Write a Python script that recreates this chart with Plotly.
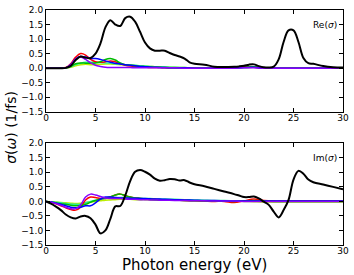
import plotly.graph_objects as go

# ---------------- data ----------------
x_k = [0, 0.5, 1, 1.5, 2, 2.5, 3, 3.5, 4, 4.5, 5, 5.5, 6, 6.5, 7, 7.5, 8, 8.5, 9, 9.5,
       10, 10.5, 11, 11.5, 12, 12.5, 13, 13.5, 14, 14.5, 15, 16, 17, 18, 19,
       19.5, 20, 20.5, 21, 21.5, 22, 22.5, 23, 23.5, 24, 24.5, 25, 25.5, 26, 26.5, 27,
       28, 29, 30]

re_black = [0, 0, 0, 0, 0.01, 0.08, 0.28, 0.40, 0.36, 0.35, 0.5, 0.85, 1.4, 1.65, 1.5, 1.45,
            1.72, 1.77, 1.6, 1.25, 0.88, 0.68, 0.6, 0.6, 0.6, 0.52, 0.45, 0.40, 0.33, 0.2,
            0.15, 0.12, 0.05, 0.04, 0.05, 0.06, 0.08, 0.12, 0.13, 0.07, 0.03, 0.02, 0.05,
            0.3, 0.9, 1.3, 1.3, 0.9, 0.35, 0.17, 0.15, 0.07, 0.03, 0.02]

im_black = [0, -0.08, -0.18, -0.3, -0.45, -0.55, -0.59, -0.52, -0.5, -0.58, -0.8, -1.1,
            -1.0, -0.6, -0.17, -0.16, 0.2, 0.7, 1.02, 1.08, 1.02, 0.92, 0.78, 0.71, 0.73,
            0.77, 0.76, 0.72, 0.73, 0.65, 0.59, 0.52, 0.43, 0.34, 0.25, 0.2, 0.15, 0.15,
            0.17, 0.1, -0.01, -0.12, -0.35, -0.55, -0.3, 0.05, 0.75, 1.05, 0.95, 0.75,
            0.66, 0.58, 0.5, 0.42]

x_c = [0, 0.5, 1, 1.5, 2, 2.5, 3, 3.5, 4, 4.5, 5, 5.5, 6, 6.5, 7, 7.5, 8, 8.5, 9, 9.5,
       10, 10.5, 11, 11.5, 12, 13, 14, 15, 16, 17, 18, 19, 20, 21, 22, 23, 24, 25, 26,
       27, 28, 29, 30]

re_colored = {
    "#bbee00": [0, 0, 0, 0, 0, 0.03, 0.08, 0.12, 0.13, 0.12, 0.12, 0.13, 0.14, 0.14, 0.13,
                0.12, 0.11, 0.1, 0.09, 0.08, 0.07, 0.06, 0.05, 0.04, 0.04, 0.03, 0.02, 0.01,
                0.01, 0, 0, 0.01, 0.02, 0.03, 0, 0, 0, 0, 0, 0, 0, 0, 0],
    "#22ee99": [0, 0, 0, 0, 0.01, 0.05, 0.12, 0.17, 0.2, 0.2, 0.2, 0.19, 0.18, 0.17, 0.15,
                0.14, 0.12, 0.11, 0.1, 0.08, 0.07, 0.06, 0.05, 0.05, 0.04, 0.03, 0.02, 0.01,
                0.01, 0, 0, 0.01, 0.02, 0.05, 0, 0, 0, 0, 0, 0, 0, 0, 0],
    "#ff0000": [0, 0, 0, 0, 0.02, 0.15, 0.38, 0.5, 0.45, 0.3, 0.22, 0.2, 0.22, 0.25, 0.22,
                0.15, 0.1, 0.07, 0.05, 0.04, 0.03, 0.02, 0.02, 0.02, 0.01, 0.01, 0.01, 0,
                0, 0, 0, 0.02, 0.06, 0.04, 0, 0, 0, 0, 0, 0, 0, 0, 0],
    "#00bb00": [0, 0, 0, 0, 0.01, 0.06, 0.15, 0.18, 0.17, 0.17, 0.18, 0.22, 0.3, 0.33, 0.28,
                0.18, 0.12, 0.1, 0.08, 0.06, 0.05, 0.04, 0.03, 0.03, 0.02, 0.01, 0.01, 0,
                0, 0, 0, 0.01, 0.03, 0.05, 0, 0, 0, 0, 0, 0, 0, 0, 0],
    "#0000ff": [0, 0, 0, 0, 0.01, 0.12, 0.32, 0.4, 0.38, 0.33, 0.33, 0.3, 0.25, 0.2, 0.17,
                0.14, 0.12, 0.1, 0.08, 0.06, 0.05, 0.04, 0.03, 0.02, 0.02, 0.01, 0.01, 0,
                0, 0, 0, 0.01, 0.02, 0.03, 0, 0, 0, 0, 0, 0, 0, 0, 0],
    "#8800ff": [0, 0, 0, 0, 0.01, 0.12, 0.32, 0.38, 0.3, 0.18, 0.1, 0.06, 0.03, 0.02, 0.02,
                0.02, 0.02, 0.02, 0.01, 0.01, 0.01, 0.01, 0.01, 0.01, 0.01, 0.01, 0, 0,
                0, 0, 0, 0, 0.01, 0.01, 0, 0, 0, 0, 0, 0, 0, 0, 0],
}

im_colored = {
    "#bbee00": [0, -0.01, -0.02, -0.04, -0.05, -0.06, -0.07, -0.06, -0.04, -0.02, 0, 0.02,
                0.04, 0.05, 0.06, 0.07, 0.07, 0.07, 0.06, 0.06, 0.06, 0.05, 0.05, 0.05, 0.04,
                0.04, 0.03, 0.03, 0.02, 0.02, 0.01, 0.01, 0, -0.01, -0.02, -0.02, -0.02,
                -0.02, -0.02, -0.02, -0.02, -0.02, -0.02],
    "#22ee99": [0, -0.01, -0.03, -0.05, -0.07, -0.09, -0.1, -0.1, -0.05, 0, 0.04, 0.07,
                0.1, 0.12, 0.13, 0.13, 0.13, 0.12, 0.12, 0.11, 0.1, 0.1, 0.09, 0.08, 0.08,
                0.07, 0.06, 0.05, 0.04, 0.03, 0.03, 0.02, 0.01, 0.02, 0.01, 0.01, 0.01,
                0.01, 0.01, 0.01, 0.01, 0.01, 0.01],
    "#ff0000": [0, -0.03, -0.08, -0.15, -0.22, -0.28, -0.3, -0.2, 0.05, 0.15, 0.13, 0.1,
                0.1, 0.15, 0.22, 0.25, 0.2, 0.15, 0.12, 0.1, 0.09, 0.08, 0.07, 0.06, 0.05,
                0.04, 0.03, 0.02, 0.01, 0, 0, -0.04, 0.02, 0.08, 0.03, 0.01, 0.01, 0.01,
                0.01, 0.01, 0.01, 0.01, 0.01],
    "#00bb00": [0, -0.02, -0.05, -0.08, -0.1, -0.13, -0.15, -0.15, -0.1, -0.03, 0.03, 0.08,
                0.12, 0.15, 0.22, 0.25, 0.2, 0.15, 0.12, 0.1, 0.08, 0.07, 0.06, 0.05, 0.05,
                0.04, 0.03, 0.02, 0.02, 0.01, 0.01, 0, 0.01, 0.03, 0.01, 0, 0, 0, 0, 0, 0,
                0, 0],
    "#0000ff": [0, -0.02, -0.06, -0.1, -0.15, -0.2, -0.22, -0.2, -0.15, -0.15, -0.05, 0.08,
                0.15, 0.15, 0.13, 0.12, 0.12, 0.11, 0.11, 0.1, 0.1, 0.09, 0.08, 0.08, 0.07,
                0.06, 0.05, 0.04, 0.03, 0.03, 0.02, 0.01, 0.01, 0.01, 0.01, 0.01, 0.01,
                0.01, 0.01, 0.01, 0.01, 0.01, 0.01],
    "#8800ff": [0, -0.03, -0.07, -0.13, -0.2, -0.25, -0.25, -0.12, 0.15, 0.25, 0.22, 0.17,
                0.12, 0.1, 0.1, 0.1, 0.08, 0.07, 0.07, 0.06, 0.06, 0.05, 0.05, 0.04, 0.04,
                0.03, 0.03, 0.02, 0.02, 0.01, 0.01, 0.01, 0, 0, 0, 0, 0, 0, 0, 0, 0, 0, 0],
}

x_ticks = [0, 5, 10, 15, 20, 25, 30]
y_ticks = [-1.5, -1.0, -0.5, 0.0, 0.5, 1.0, 1.5, 2.0]

# ---------------- figure ----------------
fig = go.Figure()

for name, vals in re_colored.items():
    fig.add_trace(go.Scatter(x=x_c, y=vals, mode="lines", line=dict(color=name, width=1.5, shape="spline"),
                             xaxis="x", yaxis="y", showlegend=False))
fig.add_trace(go.Scatter(x=x_k, y=re_black, mode="lines", line=dict(color="black", width=2, shape="spline"),
                         xaxis="x", yaxis="y", showlegend=False))

for name, vals in im_colored.items():
    fig.add_trace(go.Scatter(x=x_c, y=vals, mode="lines", line=dict(color=name, width=1.5, shape="spline"),
                             xaxis="x2", yaxis="y2", showlegend=False))
fig.add_trace(go.Scatter(x=x_k, y=im_black, mode="lines", line=dict(color="black", width=2, shape="spline"),
                         xaxis="x2", yaxis="y2", showlegend=False))

font = dict(family="DejaVu Sans", size=9, color="black")
axis_common = dict(showline=True, linecolor="black", linewidth=1, mirror="allticks",
                   ticks="inside", ticklen=4, tickcolor="black", showgrid=False,
                   zeroline=False, tickfont=font)

fig.update_layout(
    width=354, height=275,
    margin=dict(l=46, r=7, t=5, b=30),
    plot_bgcolor="white", paper_bgcolor="white",
    xaxis=dict(domain=[0, 1], anchor="y", range=[0, 30], tickvals=x_ticks,
               ticklabelstandoff=-3, **axis_common),
    yaxis=dict(domain=[0.567, 1], anchor="x", range=[-1.5, 2.0], tickvals=y_ticks,
               tickformat=".1f", **axis_common),
    xaxis2=dict(domain=[0, 1], anchor="y2", range=[0, 30], tickvals=x_ticks,
                ticklabelstandoff=-3, **axis_common),
    yaxis2=dict(domain=[0, 0.433], anchor="x2", range=[-1.5, 2.0], tickvals=y_ticks,
                tickformat=".1f", **axis_common),
    annotations=[
        dict(text="Re(<i>σ</i>)", x=0.985, y=0.965, xref="paper", yref="paper",
             xanchor="right", yanchor="top", showarrow=False,
             font=dict(family="DejaVu Sans", size=9, color="black")),
        dict(text="Im(<i>σ</i>)", x=0.985, y=0.398, xref="paper", yref="paper",
             xanchor="right", yanchor="top", showarrow=False,
             font=dict(family="DejaVu Sans", size=9, color="black")),
        dict(text="<i>σ</i>(<i>ω</i>) (1/fs)", x=-0.12, y=0.5, xref="paper", yref="paper",
             xanchor="center", yanchor="middle", textangle=-90, showarrow=False,
             font=dict(family="DejaVu Sans", size=14, color="black")),
        dict(text="Photon energy (eV)", x=0.5, y=-0.083, xref="paper", yref="paper",
             xanchor="center", yanchor="middle", showarrow=False,
             font=dict(family="DejaVu Sans", size=15, color="black")),
    ],
)

fig.write_html(
    "out.html",
    config={"displayModeBar": False},
    post_script=(
        "document.body.style.margin='0';document.body.style.padding='0';"
        "document.body.style.overflow='hidden';"
        "document.documentElement.style.overflow='hidden';"
    ),
)
